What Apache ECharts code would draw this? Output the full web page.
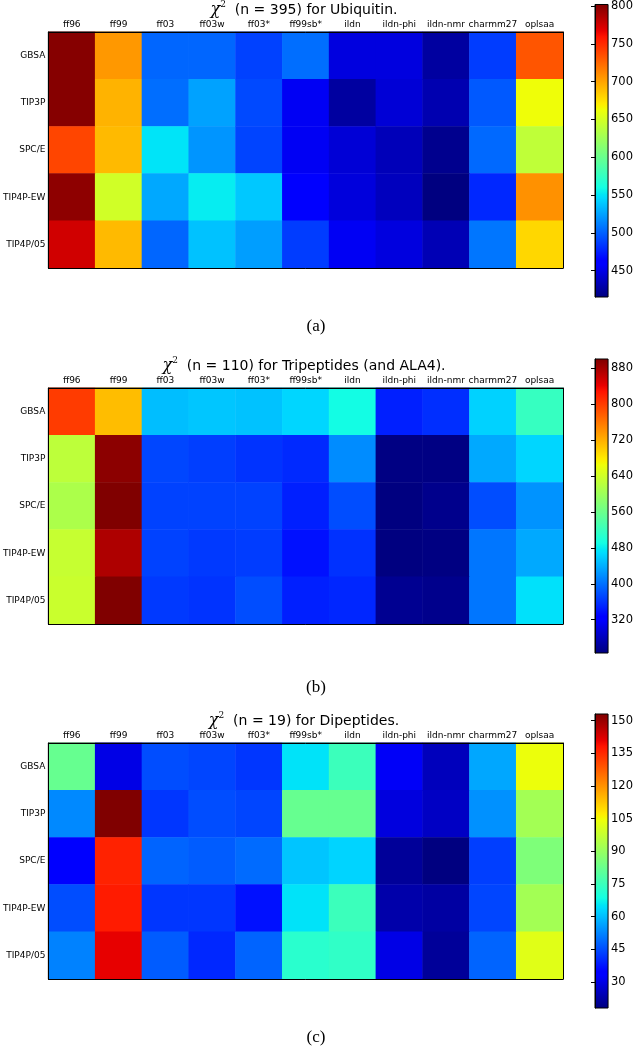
<!DOCTYPE html>
<html><head><meta charset="utf-8">
<script src="https://cdn.jsdelivr.net/npm/echarts@6/dist/echarts.min.js"></script>
<style>html,body{margin:0;padding:0;background:#fff}#c{width:636px;height:1050px}</style>
</head><body><div id="c"></div>
<script>
// ---------- data ----------
const forceFields = ['ff96','ff99','ff03','ff03w','ff03*','ff99sb*','ildn','ildn-phi','ildn-nmr','charmm27','oplsaa'];
const waterModels = ['GBSA','TIP3P','SPC/E','TIP4P-EW','TIP4P/05'];

const chi2Ubiquitin = [
  [800, 705, 502, 502, 488, 505, 447, 447, 426, 486, 732],
  [800, 694, 505, 525, 491, 454, 426, 444, 431, 497, 663],
  [739, 691, 550, 520, 489, 454, 444, 434, 420, 503, 640],
  [797, 648, 527, 553, 539, 462, 446, 436, 415, 478, 708],
  [775, 691, 502, 537, 523, 486, 454, 447, 433, 508, 679]
];
const chi2Tripeptides = [
  [800, 710, 449, 455, 452, 465, 490, 347, 357, 462, 518],
  [625, 893, 372, 367, 360, 354, 417, 248, 248, 436, 465],
  [612, 900, 370, 370, 370, 347, 377, 246, 253, 377, 422],
  [632, 874, 370, 364, 366, 338, 359, 246, 247, 403, 436],
  [635, 900, 364, 360, 377, 347, 352, 256, 253, 403, 472]
];
const chi2Dipeptides = [
  [82, 30, 45, 44, 42, 65, 75, 32, 25, 57, 104],
  [53, 153, 42, 45, 44, 82, 82, 29, 26, 54, 92],
  [34, 136, 48, 47, 49, 61, 63, 21, 18, 43, 86],
  [45, 137, 42, 42, 37, 65, 75, 23, 22, 44, 92],
  [52, 141, 47, 40, 48, 72, 73, 30, 21, 48, 102]
];
const rangeUbiquitin = [415, 802];
const rangeTripeptides = [246, 900];
const rangeDipeptides = [18, 153];
const ticksUbiquitin = [450, 500, 550, 600, 650, 700, 750, 800];
const ticksTripeptides = [320, 400, 480, 560, 640, 720, 800, 880];
const ticksDipeptides = [30, 45, 60, 75, 90, 105, 120, 135, 150];
const titleTexts = ['(n = 395) for Ubiquitin.', '(n = 110) for Tripeptides (and ALA4).', '(n = 19) for Dipeptides.'];
const captions = ['(a)', '(b)', '(c)'];

// ---------- jet colormap ----------
const jetR = [[0,0],[0.35,0],[0.66,1],[0.89,1],[1,0.5]];
const jetG = [[0,0],[0.125,0],[0.375,1],[0.64,1],[0.91,0],[1,0]];
const jetB = [[0,0.5],[0.11,1],[0.34,1],[0.65,0],[1,0]];
function seg(s, t) {
  for (let i = 1; i < s.length; i++) {
    if (t <= s[i][0]) {
      const a = s[i-1], b = s[i];
      return a[1] + (b[1]-a[1]) * (t-a[0]) / (b[0]-a[0]);
    }
  }
  return s[s.length-1][1];
}
function jet(t) {
  const c = v => Math.round(v * 255);
  return 'rgb(' + c(seg(jetR,t)) + ',' + c(seg(jetG,t)) + ',' + c(seg(jetB,t)) + ')';
}
const N = 256;
const jetColors = [];
for (let i = 0; i < N; i++) jetColors.push(jet(i/(N-1)));
const jetStops = jetColors.map((c, i) => ({offset: i/(N-1), color: c}));

// ---------- layout ----------
const FONT = 'DejaVu Sans';
const panelTops = [32, 388, 743];
const panelH = 236;
const panelLeft = 45, panelW = 518;
const cbLeft = 595, cbW = 15, cbH = 294;
const captionY = [327, 688, 1038];

const panels = [
  {vals: chi2Ubiquitin, range: rangeUbiquitin, ticks: ticksUbiquitin},
  {vals: chi2Tripeptides, range: rangeTripeptides, ticks: ticksTripeptides},
  {vals: chi2Dipeptides, range: rangeDipeptides, ticks: ticksDipeptides}
];

const grid = [], xAxis = [], yAxis = [], series = [], visualMap = [], graphic = [];
panels.forEach((p, i) => {
  const top = panelTops[i];
  grid.push({left: panelLeft, top: top, width: panelW, height: panelH, show: true, borderColor: '#000', borderWidth: 1, backgroundColor: 'transparent'});
  const gH = grid.length - 1;
  const tickCommon = {alignWithLabel: true, inside: true, length: 4, lineStyle: {color: '#000', width: 1}};
  xAxis.push({gridIndex: gH, type: 'category', data: forceFields, position: 'top', z: 5,
    axisLine: {show: true, lineStyle: {color: '#000', width: 1}}, axisTick: tickCommon,
    axisLabel: {interval: 0, fontSize: 9, margin: 3, color: '#000', fontFamily: FONT},
    splitLine: {show: false}});
  const xTop = xAxis.length - 1;
  xAxis.push({gridIndex: gH, type: 'category', data: forceFields, position: 'bottom', z: 5,
    axisLine: {show: true, lineStyle: {color: '#000', width: 1}}, axisTick: tickCommon,
    axisLabel: {show: false}, splitLine: {show: false}});
  yAxis.push({gridIndex: gH, type: 'category', data: waterModels, inverse: true, position: 'left', z: 5,
    axisLine: {show: true, lineStyle: {color: '#000', width: 1}}, axisTick: tickCommon,
    axisLabel: {interval: 0, fontSize: 9, margin: 3, color: '#000', fontFamily: FONT},
    splitLine: {show: false}});
  const yLeft = yAxis.length - 1;
  yAxis.push({gridIndex: gH, type: 'category', data: waterModels, inverse: true, position: 'right', z: 5,
    axisLine: {show: true, lineStyle: {color: '#000', width: 1}}, axisTick: tickCommon,
    axisLabel: {show: false}, splitLine: {show: false}});
  const data = [];
  p.vals.forEach((row, r) => row.forEach((v, c) => data.push([c, r, v])));
  series.push({type: 'heatmap', xAxisIndex: xTop, yAxisIndex: yLeft, data: data,
    itemStyle: {borderWidth: 0}, emphasis: {disabled: true}, progressive: 0, animation: false});
  visualMap.push({type: 'continuous', show: false, min: p.range[0], max: p.range[1],
    seriesIndex: series.length - 1, inRange: {color: jetColors}});

  const cbTop = top + panelH / 2 - cbH / 2;
  grid.push({left: cbLeft, top: cbTop, width: cbW, height: cbH, show: true, borderColor: '#000', borderWidth: 1, backgroundColor: 'transparent', z: 5});
  const gC = grid.length - 1;
  xAxis.push({gridIndex: gC, type: 'value', min: 0, max: 1, show: false});
  const xC = xAxis.length - 1;
  yAxis.push({gridIndex: gC, type: 'value', min: p.range[0], max: p.range[1], position: 'right', z: 5,
    axisLine: {show: true, lineStyle: {color: '#000', width: 1}},
    axisTick: {show: true, inside: true, length: 4, customValues: p.ticks, lineStyle: {color: '#000'}},
    axisLabel: {customValues: p.ticks, fontSize: 11.5, margin: 3, color: '#000', fontFamily: FONT},
    splitLine: {show: false}});
  const yC = yAxis.length - 1;
  series.push({type: 'custom', xAxisIndex: xC, yAxisIndex: yC, data: [[0, p.range[0], p.range[1]]],
    silent: true, animation: false,
    renderItem: function (params, api) {
      const p0 = api.coord([0, api.value(2)]);
      const p1 = api.coord([1, api.value(1)]);
      return {type: 'rect', shape: {x: p0[0], y: p0[1], width: p1[0] - p0[0], height: p1[1] - p0[1]},
        style: {fill: new echarts.graphic.LinearGradient(0, 1, 0, 0, jetStops)}};
    }});

  graphic.push({type: 'text', x: panelLeft + panelW / 2, y: top - 23, silent: true,
    style: {text: '{chi|χ}{sup|2}{txt|  ' + titleTexts[i] + '}',
      align: 'center', verticalAlign: 'middle', textAlign: 'center', textVerticalAlign: 'middle',
      fill: '#000',
      rich: {
        chi: {fontFamily: 'DejaVu Serif', fontStyle: 'italic', fontSize: 16, lineHeight: 17, fill: '#000', verticalAlign: 'bottom'},
        sup: {fontFamily: 'DejaVu Serif', fontSize: 9, lineHeight: 9, fill: '#000', verticalAlign: 'top'},
        txt: {fontFamily: FONT, fontSize: 14, lineHeight: 16, fill: '#000', verticalAlign: 'bottom'}
      }}});
  graphic.push({type: 'text', x: 316, y: captionY[i], silent: true,
    style: {text: captions[i], align: 'center', verticalAlign: 'middle', textAlign: 'center', textVerticalAlign: 'middle',
      fill: '#000', font: '17px "Liberation Serif"'}});
});

const chart = echarts.init(document.getElementById('c'), null, {renderer: 'canvas'});
chart.setOption({
  animation: false,
  backgroundColor: '#fff',
  textStyle: {fontFamily: FONT},
  grid, xAxis, yAxis, series, visualMap, graphic
});
</script></body></html>
